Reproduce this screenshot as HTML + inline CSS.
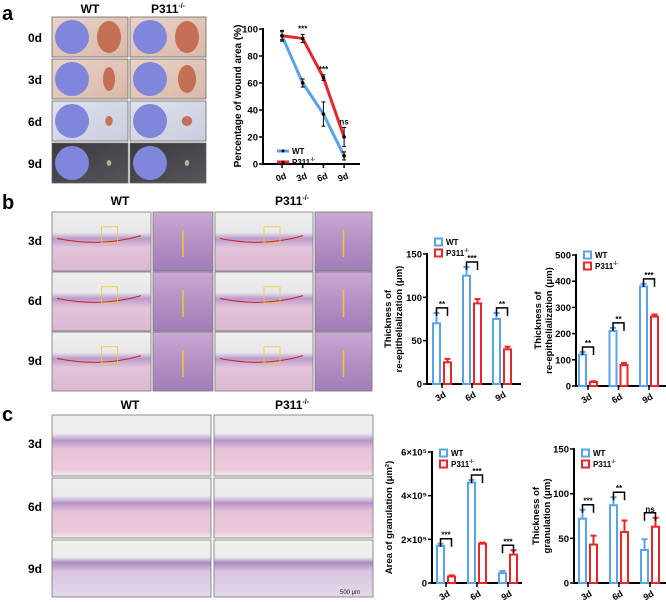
<!DOCTYPE html>
<html><head><meta charset="utf-8"><style>
html,body{margin:0;padding:0;background:#fff;}
svg{display:block;font-family:"Liberation Sans",Arial,sans-serif;}
.b{font-weight:bold;}
</style></head><body>
<svg id="fig" width="666" height="602" viewBox="0 0 666 602" xmlns="http://www.w3.org/2000/svg">
<defs>
<linearGradient id="skinA" x1="0" y1="0" x2="1" y2="1"><stop offset="0" stop-color="#e9d2c6"/><stop offset="1" stop-color="#d8b8a8"/></linearGradient>
<linearGradient id="skinD" x1="0" y1="0" x2="1" y2="1"><stop offset="0" stop-color="#3a3a3e"/><stop offset="1" stop-color="#55555a"/></linearGradient>
<linearGradient id="skinC" x1="0" y1="0" x2="1" y2="1"><stop offset="0" stop-color="#dfe3ee"/><stop offset="1" stop-color="#c9cddd"/></linearGradient>
<linearGradient id="he" x1="0" y1="0" x2="0" y2="1"><stop offset="0" stop-color="#eef0ec"/><stop offset="0.35" stop-color="#e8e6ea"/><stop offset="0.45" stop-color="#b99ccc"/><stop offset="0.6" stop-color="#e2c3da"/><stop offset="1" stop-color="#dcb8d2"/></linearGradient>
<linearGradient id="he2" x1="0" y1="0" x2="0" y2="1"><stop offset="0" stop-color="#c9a9d4"/><stop offset="0.5" stop-color="#b590c4"/><stop offset="1" stop-color="#a27db8"/></linearGradient>
<linearGradient id="heC" x1="0" y1="0" x2="0" y2="1"><stop offset="0" stop-color="#eef0ec"/><stop offset="0.3" stop-color="#eceaee"/><stop offset="0.42" stop-color="#b592c8"/><stop offset="0.55" stop-color="#e6c2d8"/><stop offset="0.9" stop-color="#ecc9da"/><stop offset="1" stop-color="#eef0ec"/></linearGradient>
<linearGradient id="heC9" x1="0" y1="0" x2="0" y2="1"><stop offset="0" stop-color="#eef0ec"/><stop offset="0.3" stop-color="#eeeeee"/><stop offset="0.4" stop-color="#a98cc0"/><stop offset="0.55" stop-color="#d8c6e0"/><stop offset="1" stop-color="#e4d8ea"/></linearGradient>
</defs>

<!-- Panel a -->
<text x="2" y="20" class="b" font-size="20">a</text>
<text x="90" y="13" class="b" font-size="12" text-anchor="middle">WT</text>
<text x="168" y="13" class="b" font-size="12" text-anchor="middle">P311<tspan font-size="7" dy="-5">-/-</tspan></text>
<g id="photos"></g>

<!-- Panel b -->
<text x="2" y="209" class="b" font-size="20">b</text>
<text x="120" y="205" class="b" font-size="12" text-anchor="middle">WT</text>
<text x="292" y="205" class="b" font-size="12" text-anchor="middle">P311<tspan font-size="7" dy="-5">-/-</tspan></text>
<g id="histB"></g>

<!-- Panel c -->
<text x="2" y="421" class="b" font-size="20">c</text>
<text x="130" y="409" class="b" font-size="12" text-anchor="middle">WT</text>
<text x="292" y="409" class="b" font-size="12" text-anchor="middle">P311<tspan font-size="7" dy="-5">-/-</tspan></text>
<g id="histC"></g>

<g id="lineChart"></g>
<g id="barB1"></g>
<g id="barB2"></g>
<g id="barC1"></g>
<g id="barC2"></g>
</svg>
<script>
const NS="http://www.w3.org/2000/svg";
const BLUE="#5aa3e8", RED="#e8262a";
function mk(parent,tag,attrs,text){const e=document.createElementNS(NS,tag);for(const k in attrs)e.setAttribute(k,attrs[k]);if(text!==undefined)e.textContent=text;parent.appendChild(e);return e;}

// ---------- data ----------
const days = ["0d","3d","6d","9d"];
const lineWT = [95,60,37,6];
const lineWTerr = [4,3,9,3];
const lineKO = [95,93,64,20];
const lineKOerr = [3,3,2,7];
const lineSig = ["","***","***","ns"];
const lineTicks = [0,20,40,60,80,100];

const barDays = ["3d","6d","9d"];
const b1WT = [70,125,75];
const b1WTerr = [12,10,7];
const b1KO = [25,93,40];
const b1KOerr = [4,5,3];
const b1Sig = ["**","***","**"];
const b1Ticks = [0,50,100,150];

const b2WT = [120,210,380];
const b2WTerr = [10,12,10];
const b2KO = [15,80,265];
const b2KOerr = [3,8,8];
const b2Sig = ["**","**","***"];
const b2Ticks = [0,100,200,300,400,500];

const c1WT = [1.7,4.6,0.45];
const c1WTerr = [0.1,0.12,0.1];
const c1KO = [0.3,1.8,1.3];
const c1KOerr = [0.05,0.05,0.2];
const c1Sig = ["***","***","***"];
const c1Ticks = [0,2,4,6];
const c1TickLabels = ["0","2×10⁵","4×10⁵","6×10⁵"];

const c2WT = [72,87,37];
const c2WTerr = [10,9,12];
const c2KO = [43,57,63];
const c2KOerr = [10,13,10];
const c2Sig = ["***","**","ns"];
const c2Ticks = [0,50,100,150];

// ---------- photos panel a ----------
(function(){
  const g=document.getElementById('photos');
  const rows=[17,59,101,143], h=40, cols=[52,130], w=76;
  const bg=["url(#skinA)","url(#skinA)","url(#skinC)","url(#skinD)"];
  const woundR=[[16,16],[8,12],[5,5],[3,3]], koR=[[16,16],[12,14],[7,5],[3,3]];
  rows.forEach((y,ri)=>{
    const lab=mk(g,'text',{x:35,y:y+25,'font-size':12,'class':'b','text-anchor':'middle'},days[ri]);
    
    
    cols.forEach((x,ci)=>{
      const r=mk(g,'rect',{x:x,y:y,width:w,height:h,fill:bg[ri],stroke:'#666','stroke-width':0.8});
      
      
      mk(g,'circle',{cx:x+20,cy:y+20,r:17,fill:'#7f86dc'});
      const rr=ci?koR[ri]:woundR[ri];
      mk(g,'ellipse',{cx:x+57,cy:y+20,rx:rr[0]*0.75,ry:rr[1],fill:ri==3?'#c9b7a0':'#c1664a',opacity:0.9});
    });
  });
})();

// ---------- histology panel b ----------
(function(){
  const g=document.getElementById('histB');
  const xs=[[52,99],[153,60],[215,98],[315,57]], ys=[212,272,332], h=59;
  ys.forEach((y,ri)=>{
    const lab=mk(g,'text',{x:35,y:y+33,'font-size':12,'class':'b','text-anchor':'middle'},barDays[ri]);
    
    
    xs.forEach((c,ci)=>{
      const r=mk(g,'rect',{x:c[0],y:y,width:c[1],height:h,fill:(ci%2)?'url(#he2)':'url(#he)',stroke:'#777','stroke-width':0.8});
      
      
      if(ci%2==0){mk(g,'path',{d:`M${c[0]+5} ${y+h*0.45} Q${c[0]+c[1]/2} ${y+h*0.6} ${c[0]+c[1]-10} ${y+h*0.4}`,fill:'none',stroke:'#d02020','stroke-width':1});
        mk(g,'rect',{x:c[0]+c[1]*0.5,y:y+h*0.25,width:16,height:16,fill:'none',stroke:'#f0c830','stroke-width':0.8});}
      else mk(g,'line',{x1:c[0]+c[1]/2,y1:y+18,x2:c[0]+c[1]/2,y2:y+45,stroke:'#f0c830','stroke-width':1.5});
    });
  });
})();

// ---------- histology panel c ----------
(function(){
  const g=document.getElementById('histC');
  const xs=[52,214], ys=[415,478,540], h=[61,60,57];
  ys.forEach((y,ri)=>{
    const lab=mk(g,'text',{x:35,y:y+33,'font-size':12,'class':'b','text-anchor':'middle'},barDays[ri]);
    
    
    xs.forEach((x,ci)=>{
      const r=mk(g,'rect',{x:x,y:y,width:159,height:h[ri],fill:ri==2?'url(#heC9)':'url(#heC)',stroke:'#777','stroke-width':0.8});
      
      
    });
  });
  mk(g,'text',{x:340,y:594,'font-size':6,fill:'#222'},'500 μm');
})();

// ---------- generic axes helpers ----------
function yAxis(g,x,y0,y1,ticks,labels,scale,fs){
  mk(g,'line',{x1:x,y1:y0,x2:x,y2:y1,stroke:'#000','stroke-width':2});
  ticks.forEach((t,i)=>{const y=scale(t);
    mk(g,'line',{x1:x-4,y1:y,x2:x,y2:y,stroke:'#000','stroke-width':1.5});
    mk(g,'text',{x:x-5,y:y+3.5,'font-size':fs||9,'class':'b','text-anchor':'end'},labels?labels[i]:t);});
}
function yTitle(g,x,yc,lines,fs){
  lines.forEach((l,i)=>{mk(g,'text',{x:0,y:0,'font-size':fs||9.5,'class':'b','text-anchor':'middle',transform:`translate(${x+i*11},${yc}) rotate(-90)`},l);});
}
function legend(g,x,y,isLine){
  [[BLUE,'WT'],[RED,'P311']].forEach((s,i)=>{
    const yy=y+i*11;
    if(isLine){mk(g,'line',{x1:x,y1:yy,x2:x+12,y2:yy,stroke:s[0],'stroke-width':3});mk(g,'circle',{cx:x+6,cy:yy,r:1.5,fill:'#000'});}
    else mk(g,'rect',{x:x,y:yy-3.5,width:7,height:7,fill:'#fff',stroke:s[0],'stroke-width':2});
    const t=mk(g,'text',{x:x+(isLine?15:11),y:yy+3,'font-size':8,'class':'b'},s[1]);
    if(i==1){mk(t,'tspan',{'font-size':5,dy:-4},'-/-');}
  });
}

// ---------- line chart ----------
(function(){
  const g=document.getElementById('lineChart');
  const ax=263, ay0=164, ay1=29, xs=d=>282+d*20.7;
  const sy=v=>ay0-(v/100)*(ay0-ay1);
  yAxis(g,ax,ay0+1,ay1-1,lineTicks,null,sy,9.5);
  mk(g,'line',{x1:ax-1,y1:ay0,x2:360,y2:ay0,stroke:'#000','stroke-width':2});
  days.forEach((d,i)=>{const x=xs(i);
    mk(g,'line',{x1:x,y1:ay0,x2:x,y2:ay0+4,stroke:'#000','stroke-width':1.5});
    mk(g,'text',{x:0,y:0,'font-size':9,'class':'b','text-anchor':'middle',transform:`translate(${x},${ay0+16}) rotate(-20)`},d);});
  yTitle(g,241,96,['Percentage of wound area (%)'],10);
  [[lineWT,lineWTerr,BLUE],[lineKO,lineKOerr,RED]].forEach(s=>{
    const pts=s[0].map((v,i)=>xs(i)+','+sy(v)).join(' ');
    const pl=mk(g,'polyline',{points:pts,fill:'none',stroke:s[2],'stroke-width':3});
    
    
    s[0].forEach((v,i)=>{const x=xs(i);
      mk(g,'line',{x1:x,y1:sy(v-s[1][i]),x2:x,y2:sy(v+s[1][i]),stroke:'#000','stroke-width':1});
      mk(g,'line',{x1:x-2,y1:sy(v-s[1][i]),x2:x+2,y2:sy(v-s[1][i]),stroke:'#000','stroke-width':1});
      mk(g,'line',{x1:x-2,y1:sy(v+s[1][i]),x2:x+2,y2:sy(v+s[1][i]),stroke:'#000','stroke-width':1});
      mk(g,'circle',{cx:x,cy:sy(v),r:1.8,fill:'#000'});});
  });
  lineSig.forEach((s,i)=>{if(!s)return;
    const top=Math.max(lineKO[i]+lineKOerr[i],lineWT[i]+lineWTerr[i]);
    mk(g,'text',{x:xs(i),y:sy(top)-3,'font-size':8,'class':'b','text-anchor':'middle'},s);});
  legend(g,277,151,true);
})();

// ---------- bar charts ----------
function barChart(id,cfg){
  const g=document.getElementById(id);
  const sy=v=>cfg.y0-(v/cfg.max)*(cfg.y0-cfg.y1);
  yAxis(g,cfg.ax,cfg.y0+1,cfg.y1-1,cfg.ticks,cfg.tickLabels,sy,9.5);
  mk(g,'line',{x1:cfg.ax-1,y1:cfg.y0,x2:cfg.axEnd,y2:cfg.y0,stroke:'#000','stroke-width':2});
  const bw=7;
  barDays.forEach((d,i)=>{
    const xc=cfg.ax+cfg.first+i*cfg.step;
    const xw=xc-5.5, xk=xc+5.5;
    mk(g,'line',{x1:xc,y1:cfg.y0,x2:xc,y2:cfg.y0+4,stroke:'#000','stroke-width':1.5});
    mk(g,'text',{x:0,y:0,'font-size':9,'class':'b','text-anchor':'middle',transform:`translate(${xc},${cfg.y0+15}) rotate(-30)`},d);
    [[cfg.wt[i],cfg.wtErr[i],xw,BLUE,'wt'],[cfg.ko[i],cfg.koErr[i],xk,RED,'p311']].forEach(s=>{
      const y=sy(s[0]);
      const r=mk(g,'rect',{x:s[2]-bw/2,y:y,width:bw,height:cfg.y0-y,fill:'#fff',stroke:s[3],'stroke-width':2});
      
      
      const ye=sy(s[0]+s[1]);
      mk(g,'line',{x1:s[2],y1:y,x2:s[2],y2:ye,stroke:s[3],'stroke-width':2});
      mk(g,'line',{x1:s[2]-3,y1:ye,x2:s[2]+3,y2:ye,stroke:s[3],'stroke-width':2});
    });
    const top=Math.min(sy(cfg.wt[i]+cfg.wtErr[i]),sy(cfg.ko[i]+cfg.koErr[i]))-5;
    mk(g,'path',{d:`M${xw} ${top+8} V${top} H${xk} V${top+8}`,fill:'none',stroke:'#000','stroke-width':1.5});
    mk(g,'text',{x:xc,y:top-1,'font-size':8,'class':'b','text-anchor':'middle'},cfg.sig[i]);
  });
  yTitle(g,cfg.titleX,(cfg.y0+cfg.y1)/2,cfg.title,9.5);
  legend(g,cfg.ax+8,cfg.legY,false);
}
barChart('barB1',{ax:427,axEnd:521,y0:384,y1:254,max:150,ticks:b1Ticks,wt:b1WT,wtErr:b1WTerr,ko:b1KO,koErr:b1KOerr,sig:b1Sig,first:15,step:30,title:['Thickness of','re-epithelialization (μm)'],titleX:391,legY:242});
barChart('barB2',{ax:576,axEnd:666,y0:386,y1:255,max:500,ticks:b2Ticks,wt:b2WT,wtErr:b2WTerr,ko:b2KO,koErr:b2KOerr,sig:b2Sig,first:12,step:30.5,title:['Thickness of','re-epithelialization (μm)'],titleX:541,legY:255});
barChart('barC1',{ax:432,axEnd:522,y0:583,y1:452,max:6,ticks:c1Ticks,tickLabels:c1TickLabels,wt:c1WT,wtErr:c1WTerr,ko:c1KO,koErr:c1KOerr,sig:c1Sig,first:14,step:31,title:['Area of granulation (μm²)'],titleX:392,legY:453});
barChart('barC2',{ax:574,axEnd:666,y0:583,y1:449,max:150,ticks:c2Ticks,wt:c2WT,wtErr:c2WTerr,ko:c2KO,koErr:c2KOerr,sig:c2Sig,first:14,step:31,title:['Thickness of','granulation (μm)'],titleX:539,legY:453});
</script>
</body></html>
